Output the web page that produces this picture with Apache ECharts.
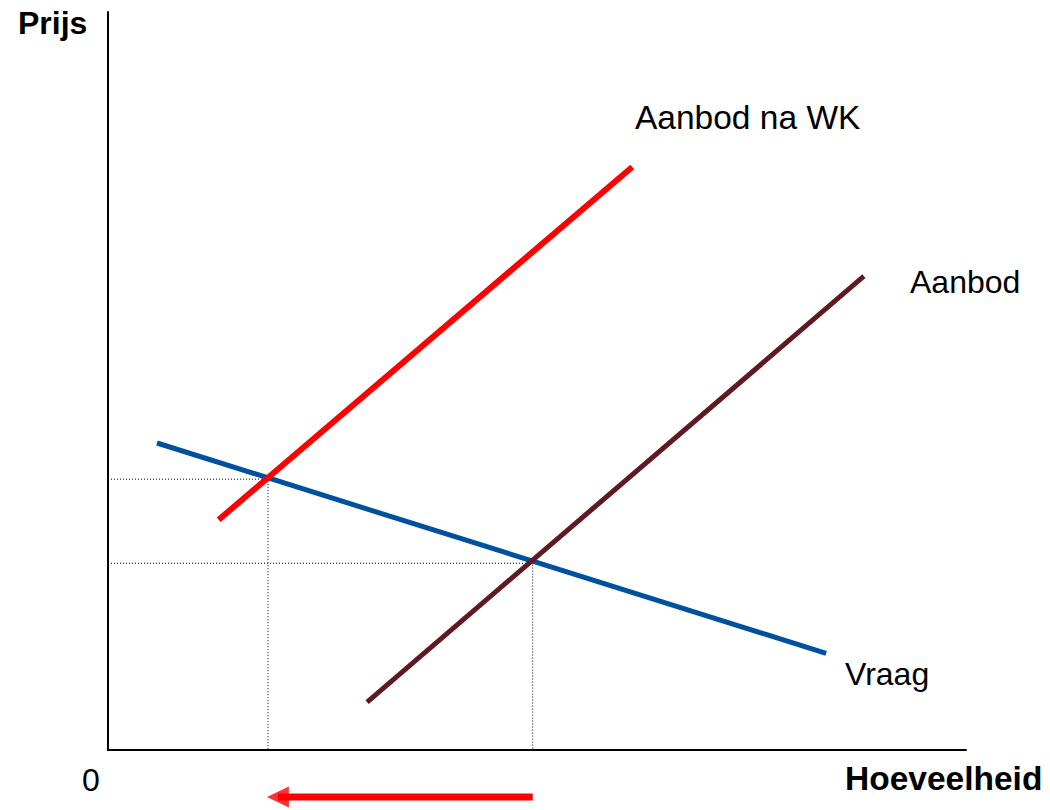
<!DOCTYPE html>
<html>
<head>
<meta charset="utf-8">
<script src="https://cdn.jsdelivr.net/npm/echarts@6/dist/echarts.min.js"></script>
<style>
html,body{margin:0;padding:0;background:#fff;}
#chart{width:1050px;height:810px;}
</style>
</head>
<body>
<div id="chart"></div>
<script>
// Data (abstract units: quantity 0..10, price 0..10)
const aanbodNaWK = [[1.29, 3.12], [6.11, 7.90]];
const aanbod = [[3.02, 0.65], [8.81, 6.42]];
const vraag = [[0.571, 4.16], [8.37, 1.31]];
const evenwichtNaWK = [1.865, 3.67];
const evenwicht = [4.95, 2.53];
const pijlSchacht = [[4.95, -0.637], [1.98, -0.637]];
const pijlPunt = [[1.98, -0.637]];
const labels = {
  prijs: 'Prijs', hoeveelheid: 'Hoeveelheid', nul: '0',
  aanbodNaWK: 'Aanbod na WK', aanbod: 'Aanbod', vraag: 'Vraag'
};

const chart = echarts.init(document.getElementById('chart'), null, {renderer: 'svg'});
const font = '"Liberation Sans", Arial, sans-serif';
function guide(p) {
  return {
    type: 'line', silent: true, symbol: 'none', animation: false,
    data: [[0, p[1]], [p[0], p[1]], [p[0], 0]],
    lineStyle: {color: '#000', width: 1, type: [1, 2]}, z: 1
  };
}
function txt(t, x, y, bold, size) {
  return {
    type: 'text', x: x, y: y, silent: true,
    style: {text: t, fill: '#000', font: (bold ? 'bold ' : '') + (size || 32) + 'px ' + font, verticalAlign: 'middle', align: 'left'}
  };
}
chart.setOption({
  animation: false,
  grid: {left: 108, top: 12, width: 858, height: 738},
  xAxis: {type: 'value', min: 0, max: 10, axisLine: {show: true, lineStyle: {color: '#000', width: 2}},
    axisTick: {show: false}, axisLabel: {show: false}, splitLine: {show: false}},
  yAxis: {type: 'value', min: 0, max: 10, axisLine: {show: true, lineStyle: {color: '#000', width: 2}},
    axisTick: {show: false}, axisLabel: {show: false}, splitLine: {show: false}},
  series: [
    guide(evenwichtNaWK),
    guide(evenwicht),
    {type: 'line', symbol: 'none', silent: true, data: vraag, lineStyle: {color: '#0050A0', width: 5, cap: 'butt'}, z: 3},
    {type: 'line', symbol: 'none', silent: true, data: aanbod, lineStyle: {color: '#5E1A20', width: 5, cap: 'butt'}, z: 4},
    {type: 'line', symbol: 'none', silent: true, data: aanbodNaWK, lineStyle: {color: '#FF0000', width: 6, cap: 'butt'}, z: 5},
    {type: 'line', symbol: 'none', silent: true, clip: false, data: pijlSchacht, lineStyle: {color: '#FF0000', width: 7, cap: 'butt'}, z: 5},
    {type: 'scatter', silent: true, clip: false, data: pijlPunt, symbol: 'triangle', symbolSize: [21, 22], symbolRotate: 90,
      itemStyle: {color: '#FF0000'}, z: 6}
  ],
  graphic: [
    txt(labels.prijs, 18, 23, true),
    txt(labels.hoeveelheid, 845, 778, true, 33.5),
    txt(labels.nul, 82, 780, false),
    txt(labels.aanbodNaWK, 635, 117, false, 33.5),
    txt(labels.aanbod, 910, 282, false),
    txt(labels.vraag, 845, 674, false)
  ]
});
</script>
</body>
</html>
